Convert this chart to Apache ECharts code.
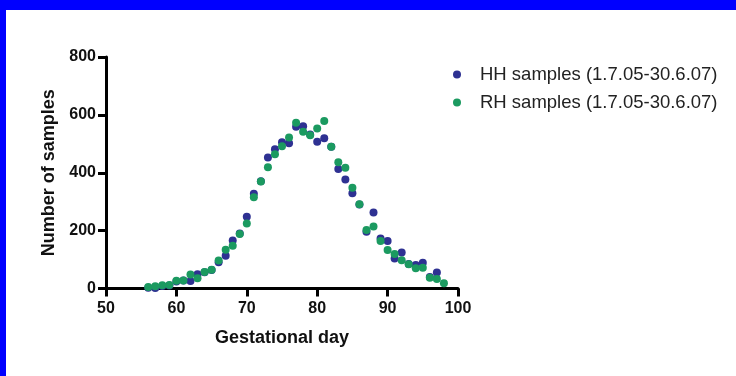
<!DOCTYPE html>
<html>
<head>
<meta charset="utf-8">
<script src="https://cdn.jsdelivr.net/npm/echarts@6/dist/echarts.min.js"></script>
<style>
html,body{margin:0;padding:0;background:#fff;}
#wrap{position:relative;width:736px;height:376px;overflow:hidden;}
#chart{position:absolute;left:0;top:0;width:736px;height:376px;}
.bar{position:absolute;background:#0000ff;}
</style>
</head>
<body>
<div id="wrap">
<div id="chart"></div>
<div class="bar" style="left:0;top:0;width:736px;height:10px;"></div>
<div class="bar" style="left:0;top:0;width:6px;height:376px;"></div>
</div>
<script>
const days = [56,57,58,59,60,61,62,63,64,65,66,67,68,69,70,71,72,73,74,75,76,77,78,79,80,81,82,83,84,85,86,87,88,89,90,91,92,93,94,95,96,97,98];
const hhValues = [3,2,9,10,24,28,26,49,56,64,91,113,166,190,248,327,371,453,481,505,502,559,561,532,507,519,490,413,377,329,290,196,263,173,164,104,124,85,81,89,40,55,null];
const rhValues = [5,8,11,12,27,28,48,35,57,65,97,134,148,188,225,315,370,419,464,492,522,573,542,530,553,579,490,436,417,348,291,202,214,164,133,119,98,84,70,72,37,33,18];
const xTicks = [50,60,70,80,90,100];
const yTicks = [0,200,400,600,800];
const legendNames = ['HH samples (1.7.05-30.6.07)','RH samples (1.7.05-30.6.07)'];
const colors = ['#2e3192','#1b9a60'];

const toPairs = vals => days.map((d,i)=> vals[i]==null ? null : [d, vals[i]]).filter(p=>p);

const chart = echarts.init(document.getElementById('chart'), null, {renderer:'canvas'});
const tickFont = {fontFamily:'Liberation Sans, Arial, sans-serif', fontWeight:'bold', fontSize:16, color:'#111'};
const titleFont = {fontFamily:'Liberation Sans, Arial, sans-serif', fontWeight:'bold', fontSize:18, color:'#111'};
chart.setOption({
  animation:false,
  backgroundColor:'#fff',
  grid:{left:106,right:278,top:57,bottom:87.5,containLabel:false},
  legend:{
    orient:'vertical', left:448, top:60, itemGap:9,
    itemWidth:8, itemHeight:8, icon:'circle',
    textStyle:{fontFamily:'Liberation Sans, Arial, sans-serif', fontSize:18.5, color:'#222', padding:[0,0,0,14]},
    data:legendNames
  },
  xAxis:{
    type:'value', min:xTicks[0], max:xTicks[xTicks.length-1], interval:10,
    name:'Gestational day', nameLocation:'middle', nameGap:41,
    nameTextStyle:titleFont,
    axisLine:{show:true, onZero:false, lineStyle:{color:'#000', width:3}},
    axisTick:{show:true, length:8, lineStyle:{color:'#000', width:3}},
    axisLabel:Object.assign({margin:12}, tickFont),
    splitLine:{show:false}
  },
  yAxis:{
    type:'value', min:yTicks[0], max:yTicks[yTicks.length-1], interval:200,
    name:'Number of samples', nameLocation:'middle', nameGap:48, nameRotate:90,
    nameTextStyle:titleFont,
    axisLine:{show:true, lineStyle:{color:'#000', width:3}},
    axisTick:{show:true, length:8, lineStyle:{color:'#000', width:3}},
    axisLabel:Object.assign({margin:10}, tickFont),
    splitLine:{show:false}
  },
  series:[
    {name:legendNames[0], type:'scatter', symbolSize:8, itemStyle:{color:colors[0], opacity:1}, data:toPairs(hhValues), z:2},
    {name:legendNames[1], type:'scatter', symbolSize:8, itemStyle:{color:colors[1], opacity:1}, data:toPairs(rhValues), z:3}
  ]
});
</script>
</body>
</html>
